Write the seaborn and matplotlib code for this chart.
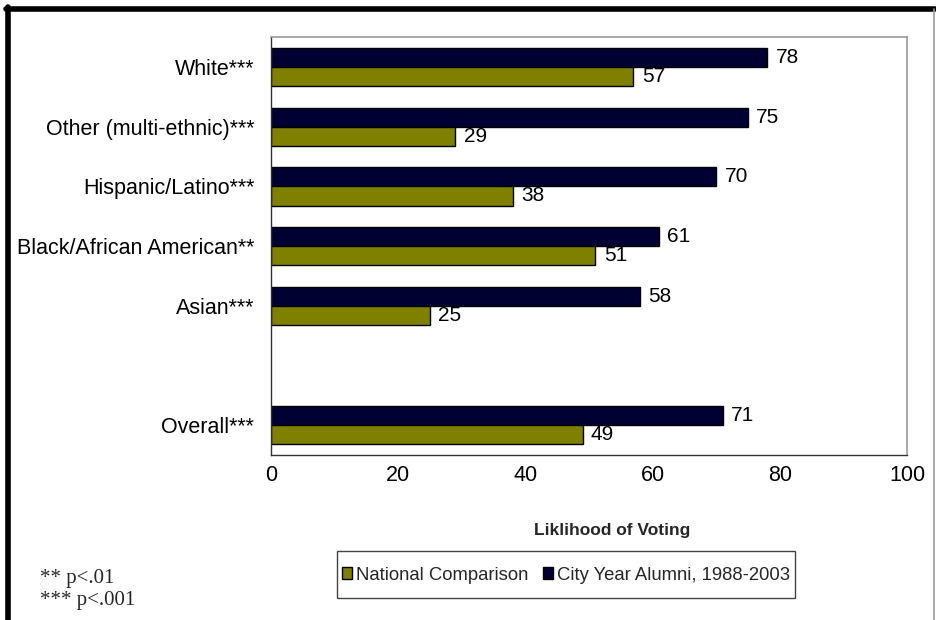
import matplotlib
matplotlib.use("Agg")
import matplotlib.pyplot as plt
import matplotlib.patches as mpatches
from matplotlib.lines import Line2D
import seaborn as sns
import pandas as pd
import numpy as np

# Group labels (blank entry leaves a gap before "Overall")
categories = ["White***", "Other (multi-ethnic)***", "Hispanic/Latino***",
              "Black/African American**", "Asian***", "", "Overall***"]
city_year = [78, 75, 70, 61, 58, np.nan, 71]
national = [57, 29, 38, 51, 25, np.nan, 49]
series_names = ["City Year Alumni, 1988-2003", "National Comparison"]
x_ticks = [0, 20, 40, 60, 80, 100]

NAVY = "#000033"
OLIVE = "#808000"

sns.set_theme(style="white")
plt.rcParams["font.family"] = ["Liberation Sans", "DejaVu Sans"]

rows = []
for cat, cy, nat in zip(categories, city_year, national):
    if cat == "":
        continue
    rows.append({"group": cat, "series": series_names[0], "value": cy})
    rows.append({"group": cat, "series": series_names[1], "value": nat})
df = pd.DataFrame(rows)

W, H = 936, 620
fig = plt.figure(figsize=(W / 100, H / 100), dpi=100)
ax = fig.add_axes([0.2895, 0.266, 0.6795, 0.674])

sns.barplot(data=df, y="group", x="value", hue="series", order=categories,
            hue_order=series_names, palette=[NAVY, OLIVE], orient="h",
            width=0.64, edgecolor="black", linewidth=1.0, errorbar=None,
            saturation=1, legend=False, ax=ax)

for container in ax.containers:
    ax.bar_label(container, fmt="%g", padding=6, fontsize=15, color="black")

ax.set_xlim(0, 100)
ax.set_ylim(len(categories) - 0.5, -0.5)
ax.set_xticks(x_ticks)
ax.set_xticklabels([str(t) for t in x_ticks])
ax.tick_params(axis="both", length=0, labelsize=15.5, colors="black")
ax.tick_params(axis="x", pad=7)
ax.tick_params(axis="y", pad=12)
ax.set_ylabel("")
ax.set_xlabel("Liklihood of Voting", fontsize=12.5, fontweight="bold")
ax.xaxis.set_label_coords(0.536, -0.163)
for side in ["left", "bottom"]:
    ax.spines[side].set_color("#333333")
    ax.spines[side].set_linewidth(1.0)
for side in ["top", "right"]:
    ax.spines[side].set_color("#999999")
    ax.spines[side].set_linewidth(1.2)

handles = [mpatches.Patch(facecolor=OLIVE, edgecolor="black", linewidth=1.0,
                          label="National Comparison"),
           mpatches.Patch(facecolor=NAVY, edgecolor="black", linewidth=1.0,
                          label="City Year Alumni, 1988-2003")]
leg = fig.legend(handles=handles, loc="center",
                 bbox_to_anchor=(566 / W, 1 - 575 / H),
                 ncol=2, fontsize=13.3, frameon=False,
                 handlelength=0.56, handleheight=0.56, handletextpad=0.2,
                 columnspacing=0.8, borderpad=0.0)
# Legend frame
fig.add_artist(mpatches.Rectangle((337 / W, 1 - 598 / H), 458 / W, 47 / H,
                                  transform=fig.transFigure, fill=False,
                                  edgecolor="#444444", linewidth=1.0))

fig.text(40 / W, 1 - 578 / H, "** p<.01", fontsize=15,
         family="Liberation Serif", ha="left", va="center")
fig.text(40 / W, 1 - 600 / H, "*** p<.001", fontsize=15,
         family="Liberation Serif", ha="left", va="center")

# Outer frame of the figure
fig.add_artist(Line2D([0.006, 0.999], [0.986, 0.986], color="black",
                      linewidth=4, transform=fig.transFigure))
fig.add_artist(Line2D([0.009, 0.009], [0.0, 0.988], color="black",
                      linewidth=4, transform=fig.transFigure))
fig.add_artist(Line2D([0.998, 0.998], [0.0, 0.986], color="#999999",
                      linewidth=1.2, transform=fig.transFigure))

fig.savefig("out.png", dpi=100)
